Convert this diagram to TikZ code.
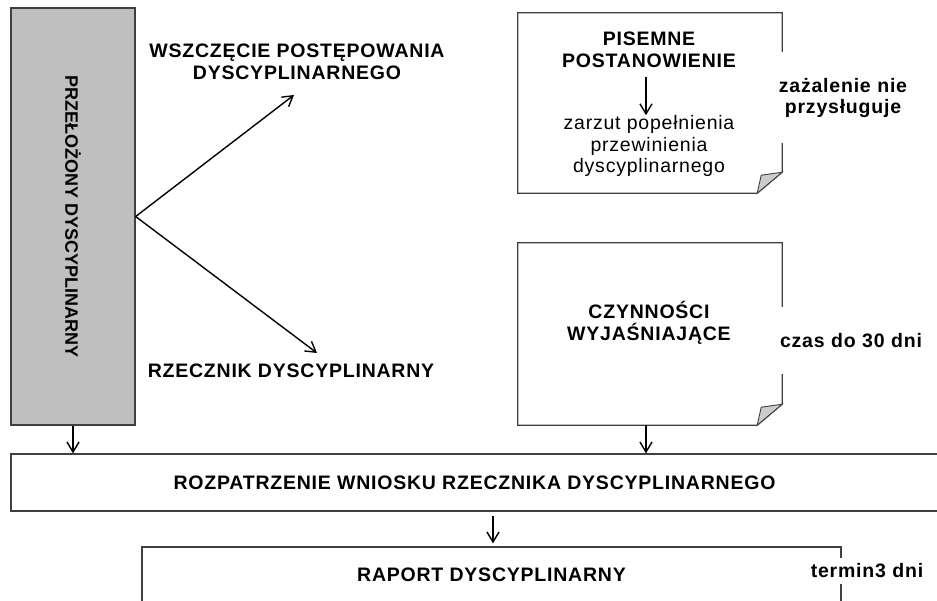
\documentclass[tikz,border=0pt]{standalone}
\usepackage{fontspec}
\setmainfont{Liberation Sans}
\usetikzlibrary{calc, arrows.meta}

\tikzset{
    txt/.style={font=\fontsize{19.5}{21.5}\selectfont\addfontfeatures{LetterSpace=4}, align=center, inner sep=0pt},
    btxt/.style={txt, font=\fontsize{19.5}{21.5}\selectfont\bfseries\addfontfeatures{LetterSpace=4}},
    box/.style={draw=black!75, line width=1.3pt, rectangle},
    docbox/.style={rectangle, inner sep=0pt},
    side/.style={btxt, fill=white, text width=140pt},
    arr/.style={-{Straight Barb[length=10pt, width=12pt, line width=1.4pt]}, line width=1.4pt}
}

\begin{document}
\begin{tikzpicture}[x=1pt, y=-1pt]
    \useasboundingbox (0,0) rectangle (937,601);
    \clip (0,0) rectangle (937,601);

    % Przelozony (szary blok)
    \node[box, fill=black!25, minimum width=124pt, minimum height=417pt] (przel) at (73,216.5) {};
    \node[btxt, font=\fontsize{18}{21}\selectfont\bfseries, rotate=-90] at (przel.center) {PRZEŁOŻONY DYSCYPLINARNY};

    % dwie drogi
    \node[btxt] (wszcz) at (297,62) {WSZCZĘCIE POSTĘPOWANIA\\DYSCYPLINARNEGO};
    \node[btxt] (rzecz) at (291,371) {RZECZNIK DYSCYPLINARNY};
    \coordinate (wszczK) at (294,95);
    \coordinate (rzeczK) at (317,353);
    \draw[arr] (przel.east) -- (wszczK);
    \draw[arr] (przel.east) -- (rzeczK);

    % dokumenty z zagietym rogiem
    \node[docbox, minimum width=264pt, minimum height=180pt] (pis) at (650,103) {};
    \node[docbox, minimum width=264pt, minimum height=182pt] (czyn) at (650,334) {};
    \foreach \d in {pis, czyn} {
        \draw[draw=black!75, line width=1.3pt] (\d.north west) -- (\d.north east)
            -- ($(\d.south east)+(0,-21)$) -- ($(\d.south east)+(-25,0)$)
            -- (\d.south west) -- cycle;
        \draw[draw=black!75, fill=black!20, line width=0.9pt] ($(\d.south east)+(-25,0)$)
            -- ($(\d.south east)+(-21,-18)$) -- ($(\d.south east)+(0,-21)$) -- cycle;
    }

    % tekst w dokumentach
    \node[btxt] (pisT) at (649,50) {PISEMNE\\POSTANOWIENIE};
    \node[txt] (zarzut) at (649,146) {zarzut popełnienia\\przewinienia\\dyscyplinarnego};
    \coordinate (pisA) at (646,77);
    \draw[arr] (pisA) -- (pisA |- zarzut.north);
    \node[btxt] (czynT) at (649,323) {CZYNNOŚCI\\WYJAŚNIAJĄCE};

    % uwagi z boku
    \node[side, minimum height=91pt] (zazal) at (843,98) {zażalenie nie\\przysługuje};
    \node[side, text width=160pt, minimum height=67pt] (czas) at (851,341) {czas do 30 dni};

    % rozpatrzenie wniosku
    \node[box, minimum width=927pt, minimum height=57pt] (rozp) at (474.5,482.5) {};
    \node[btxt] at (rozp.center) {ROZPATRZENIE WNIOSKU RZECZNIKA DYSCYPLINARNEGO};
    \draw[arr] (przel.south) -- (przel.south |- rozp.north);
    \draw[arr] (czyn.south -| 646,0) -- (646,0 |- rozp.north);

    % raport
    \node[box, minimum width=699pt, minimum height=56pt] (raport) at (491.5,575) {};
    \node[btxt] at (raport.center) {RAPORT DYSCYPLINARNY};
    \draw[arr, shorten <=4pt, shorten >=3pt] (rozp.south -| 493,0) -- (493,0 |- raport.north);
    \node[side, text width=115pt, minimum height=26pt] (termin) at (867,571) {termin3 dni};
\end{tikzpicture}
\end{document}
